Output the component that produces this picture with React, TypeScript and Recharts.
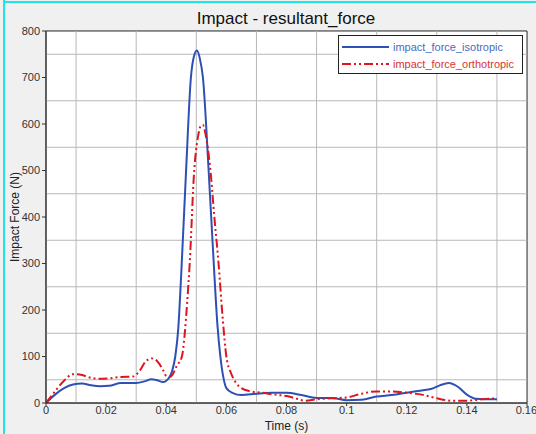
import React from 'react';
import {
  LineChart,
  Line,
  XAxis,
  YAxis,
  CartesianGrid,
  ReferenceLine,
  ReferenceArea,
} from 'recharts';

// time (s) / force (N) samples
const isoTime = [
  0, 0.003, 0.006, 0.009, 0.012, 0.015, 0.018, 0.021, 0.025, 0.03, 0.033, 0.035, 0.037, 0.039,
  0.04, 0.041, 0.042, 0.043, 0.044, 0.045, 0.0466, 0.0482, 0.0492, 0.0502, 0.0512, 0.0522,
  0.0541, 0.0558, 0.057, 0.058, 0.059, 0.06, 0.062, 0.065, 0.07, 0.075, 0.08, 0.085, 0.09,
  0.095, 0.1, 0.105, 0.11, 0.115, 0.12, 0.125, 0.128, 0.131, 0.134, 0.137, 0.14, 0.143, 0.146,
  0.15,
];
const isoForce = [
  0, 18, 32, 40, 42, 38, 36, 37, 43, 43, 47, 51, 49, 45, 48, 55, 70, 100, 160, 280, 500, 700,
  745, 758, 740, 700, 500, 300, 170, 100, 55, 32, 22, 17, 20, 22, 22, 17, 11, 11, 6, 7, 14, 17,
  22, 27, 30, 38, 43, 35, 18, 9, 8, 8,
];

const orthoTime = [
  0, 0.003, 0.006, 0.009, 0.012, 0.015, 0.018, 0.021, 0.025, 0.029, 0.031, 0.033, 0.035, 0.037,
  0.039, 0.04, 0.041, 0.042, 0.0435, 0.0452, 0.047, 0.0478, 0.0493, 0.0505, 0.0515, 0.0522,
  0.053, 0.0547, 0.056, 0.0574, 0.0588, 0.06, 0.0615, 0.063, 0.065, 0.068, 0.072, 0.076, 0.08,
  0.083, 0.086, 0.09, 0.095, 0.1, 0.105, 0.11, 0.115, 0.12, 0.125, 0.13, 0.135, 0.14, 0.145,
  0.15,
];
const orthoForce = [
  0, 25, 48, 62, 60, 54, 52, 53, 56, 57, 68, 88, 96, 90, 70, 58, 56, 60, 80, 100, 220, 300, 500,
  570, 596, 598, 580, 500, 400, 300, 180, 100, 65, 45, 32, 25, 22, 18, 15, 10, 5, 8, 10, 12, 20,
  25, 25, 22, 18, 10, 5, 5, 8, 10,
];

const xTicks = [0, 0.02, 0.04, 0.06, 0.08, 0.1, 0.12, 0.14, 0.16];
const xMinor = [0.01, 0.03, 0.05, 0.07, 0.09, 0.11, 0.13, 0.15];
const yTicks = [0, 100, 200, 300, 400, 500, 600, 700, 800];
const yMinor = [50, 150, 250, 350, 450, 550, 650, 750];

const isoData = isoTime.map((t, i) => ({ t, v: isoForce[i] }));
const orthoData = orthoTime.map((t, i) => ({ t, v: orthoForce[i] }));

const BLUE = '#2d50b4';
const RED = '#e0141e';
const DASH = '9 3 2 3 2 3';
const FONT = '"Liberation Sans", Arial, sans-serif';

const LegendBox = () => (
  <div
    style={{
      position: 'absolute',
      top: 35,
      left: 338,
      background: '#fff',
      border: '1px solid #222',
      width: 185,
      height: 39,
      fontFamily: FONT,
      fontSize: 11,
      boxSizing: 'border-box',
      paddingTop: 2,
    }}
  >
    <div style={{ display: 'flex', alignItems: 'center', height: 17 }}>
      <svg width={54} height={6}>
        <line x1={3} y1={3} x2={50} y2={3} stroke={BLUE} strokeWidth={2} />
      </svg>
      <span style={{ color: '#4a6cbc' }}>impact_force_isotropic</span>
    </div>
    <div style={{ display: 'flex', alignItems: 'center', height: 17 }}>
      <svg width={54} height={6}>
        <line x1={3} y1={3} x2={50} y2={3} stroke={RED} strokeWidth={2} strokeDasharray={DASH} />
      </svg>
      <span style={{ color: '#d8323a' }}>impact_force_orthotropic</span>
    </div>
  </div>
);

const App: React.FC = () => {
  return (
    <div
      style={{
        position: 'absolute',
        top: 0,
        left: 0,
        width: 536,
        height: 434,
        background: '#f0f0f0',
        fontFamily: FONT,
      }}
    >
      <div style={{ position: 'absolute', left: 3, top: 0, width: 2, height: 434, background: '#1ee6e6' }} />
      <div style={{ position: 'absolute', left: 3, top: 1, width: 533, height: 2, background: '#1ee6e6' }} />
      <div
        style={{
          position: 'absolute',
          top: 9,
          left: 0,
          width: 572,
          textAlign: 'center',
          fontSize: 17,
          color: '#111',
        }}
      >
        Impact - resultant_force
      </div>
      <div style={{ position: 'absolute', left: 0, top: 0 }}>
        <LineChart width={536} height={434} margin={{ top: 31, right: 9, left: 6, bottom: 1 }}>
          <ReferenceArea x1={0} x2={0.16} y1={0} y2={800} fill="#fff" fillOpacity={1} stroke="none" />
          <CartesianGrid stroke="#b8b8b8" />
          {xMinor.map((x) => (
            <ReferenceLine key={`vx-${x}`} x={x} stroke="#b8b8b8" />
          ))}
          {yMinor.map((y) => (
            <ReferenceLine key={`hy-${y}`} y={y} stroke="#b8b8b8" />
          ))}
          <XAxis
            dataKey="t"
            type="number"
            domain={[0, 0.16]}
            ticks={xTicks}
            allowDataOverflow
            height={30}
            tickSize={3}
            tickMargin={0}
            tick={{ fontSize: 11, fill: '#333', fontFamily: FONT }}
            stroke="#333"
            label={{ value: 'Time (s)', position: 'insideBottom', offset: 3, fontSize: 12, fill: '#222', fontFamily: FONT }}
          />
          <YAxis
            type="number"
            domain={[0, 800]}
            ticks={yTicks}
            width={40}
            tickSize={4}
            tick={{ fontSize: 11, fill: '#333', fontFamily: FONT }}
            stroke="#333"
            label={{
              value: 'Impact Force (N)',
              angle: -90,
              position: 'insideLeft',
              offset: 9,
              style: { textAnchor: 'middle' },
              fontSize: 12,
              fill: '#222',
              fontFamily: FONT,
            }}
          />
          <Line
            data={isoData}
            dataKey="v"
            name="impact_force_isotropic"
            type="monotone"
            stroke={BLUE}
            strokeWidth={2}
            dot={false}
            isAnimationActive={false}
          />
          <Line
            data={orthoData}
            dataKey="v"
            name="impact_force_orthotropic"
            type="monotone"
            stroke={RED}
            strokeWidth={2}
            strokeDasharray={DASH}
            dot={false}
            isAnimationActive={false}
          />
          <ReferenceArea x1={0} x2={0.16} y1={0} y2={800} fill="none" stroke="#333" strokeWidth={1} />
        </LineChart>
      </div>
      <LegendBox />
    </div>
  );
};

export default App;
